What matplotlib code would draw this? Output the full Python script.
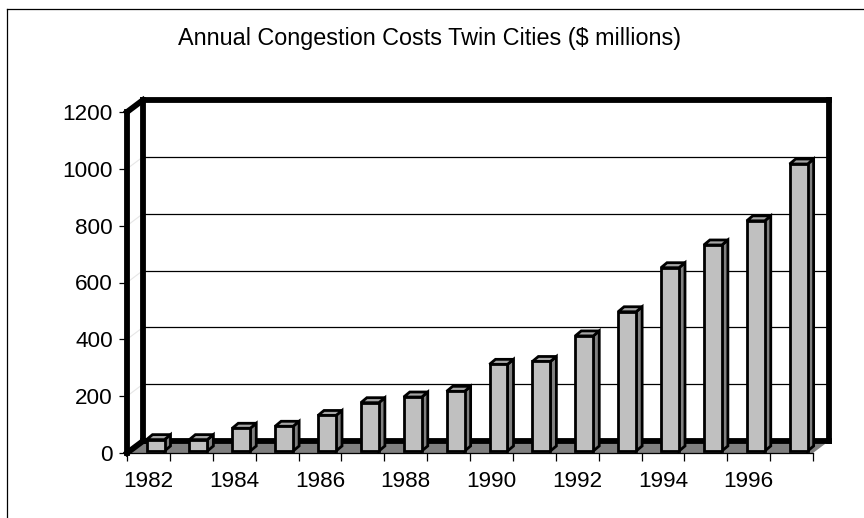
import matplotlib
matplotlib.use("Agg")
import matplotlib.pyplot as plt
from matplotlib.patches import Polygon
from matplotlib.lines import Line2D

plt.rcParams['font.family'] = ['Liberation Sans', 'DejaVu Sans']

years = [1982, 1983, 1984, 1985, 1986, 1987, 1988, 1989,
         1990, 1991, 1992, 1993, 1994, 1995, 1996, 1997]
costs = [40, 40, 80, 87, 125, 170, 190, 210,
         305, 315, 405, 490, 645, 725, 810, 1010]
yticks = [0, 200, 400, 600, 800, 1000, 1200]
title = "Annual Congestion Costs Twin Cities ($ millions)"

# pixel scales of the reference
CW = 686 / 16.0      # px per category
VS = 341 / 1200.0    # px per value unit
DX = 16 / CW         # wall depth offset (category units)
DY = 12 / VS         # wall depth offset (value units)
n = len(years)

fig = plt.figure(figsize=(8.64, 5.18), dpi=100)
ax = fig.add_axes([127 / 864, (518 - 453) / 518, 686 / 864, 341 / 518])
ax.set_xlim(0, n)
ax.set_ylim(0, 1200)

# floor
floor = Polygon([(0, 0), (n, 0), (n + DX, DY), (DX, DY)], closed=True,
                facecolor='#808080', edgecolor='none', zorder=1, clip_on=False)
ax.add_patch(floor)

# gridlines on back wall, faint ones on side wall
for v in yticks[1:-1]:
    ax.add_line(Line2D([DX, n + DX], [v + DY, v + DY], color='black', lw=0.9,
                       zorder=2, clip_on=False))
    ax.add_line(Line2D([0, DX], [v, v + DY], color='#e6e6e6', lw=0.8,
                       zorder=2, clip_on=False))

# thick frame of the walls
fw = 4.2
frame = [
    ([DX, n + DX], [1200 + DY, 1200 + DY]),   # back top
    ([n + DX, n + DX], [DY, 1200 + DY]),      # back right
    ([DX, n + DX], [DY, DY]),                 # back bottom
    ([DX, DX], [DY, 1200 + DY]),              # back left
    ([0, 0], [0, 1200]),                      # front left
    ([0, DX], [1200, 1200 + DY]),             # side top
    ([0, DX], [0, DY]),                       # side bottom
]
for xs, ys in frame:
    ax.add_line(Line2D(xs, ys, color='black', lw=fw, zorder=3,
                       solid_capstyle='projecting', clip_on=False))

# 3D bars
OFF = 19.5 / CW
W = 18 / CW
bdx = 6 / CW
bdy = 5 / VS
B = 2 / VS
for i, v in enumerate(costs):
    x0 = i + OFF
    x1 = x0 + W
    top = B + v
    side = Polygon([(x1, B), (x1 + bdx, B + bdy), (x1 + bdx, top + bdy), (x1, top)],
                   closed=True, facecolor='#808080', edgecolor='black', lw=2.0,
                   joinstyle='miter', zorder=5, clip_on=False)
    lid = Polygon([(x0, top), (x1, top), (x1 + bdx, top + bdy), (x0 + bdx, top + bdy)],
                  closed=True, facecolor='#a6a6a6', edgecolor='black', lw=2.0,
                  joinstyle='miter', zorder=5, clip_on=False)
    front = Polygon([(x0, B), (x1, B), (x1, top), (x0, top)],
                    closed=True, facecolor='#c0c0c0', edgecolor='black', lw=2.0,
                    joinstyle='miter', zorder=6, clip_on=False)
    ax.add_patch(side)
    ax.add_patch(lid)
    ax.add_patch(front)

# axes
for s in ['top', 'right', 'left']:
    ax.spines[s].set_visible(False)
ax.spines['bottom'].set_linewidth(0.9)
ax.spines['bottom'].set_zorder(4)
ax.patch.set_visible(False)

ax.set_xticks(range(n + 1))
ax.set_xticks([i + 0.5 for i in range(n)], minor=True)
ax.set_xticklabels([str(y) if k % 2 == 0 else '' for k, y in enumerate(years)],
                   minor=True)
ax.tick_params(axis='x', which='major', length=5.8, width=0.9, labelbottom=False)
ax.tick_params(axis='x', which='minor', length=0, pad=13.3, labelsize=16.2)
ax.set_yticks(yticks)
ax.set_yticklabels([str(v) for v in yticks])
ax.tick_params(axis='y', length=5.8, width=0.9, pad=4.3, labelsize=16.2)

fig.text(430 / 864, 1 - 45 / 518, title, ha='center', va='baseline', fontsize=16.8)

# outer chart border (cut at right and bottom)
fig.add_artist(Line2D([6.5 / 864, 6.5 / 864], [0, 1 - 9 / 518], color='black',
                      lw=0.9, transform=fig.transFigure))
fig.add_artist(Line2D([6.5 / 864, 1], [1 - 9 / 518, 1 - 9 / 518], color='black',
                      lw=0.9, transform=fig.transFigure))

fig.savefig('out.png', dpi=100)
